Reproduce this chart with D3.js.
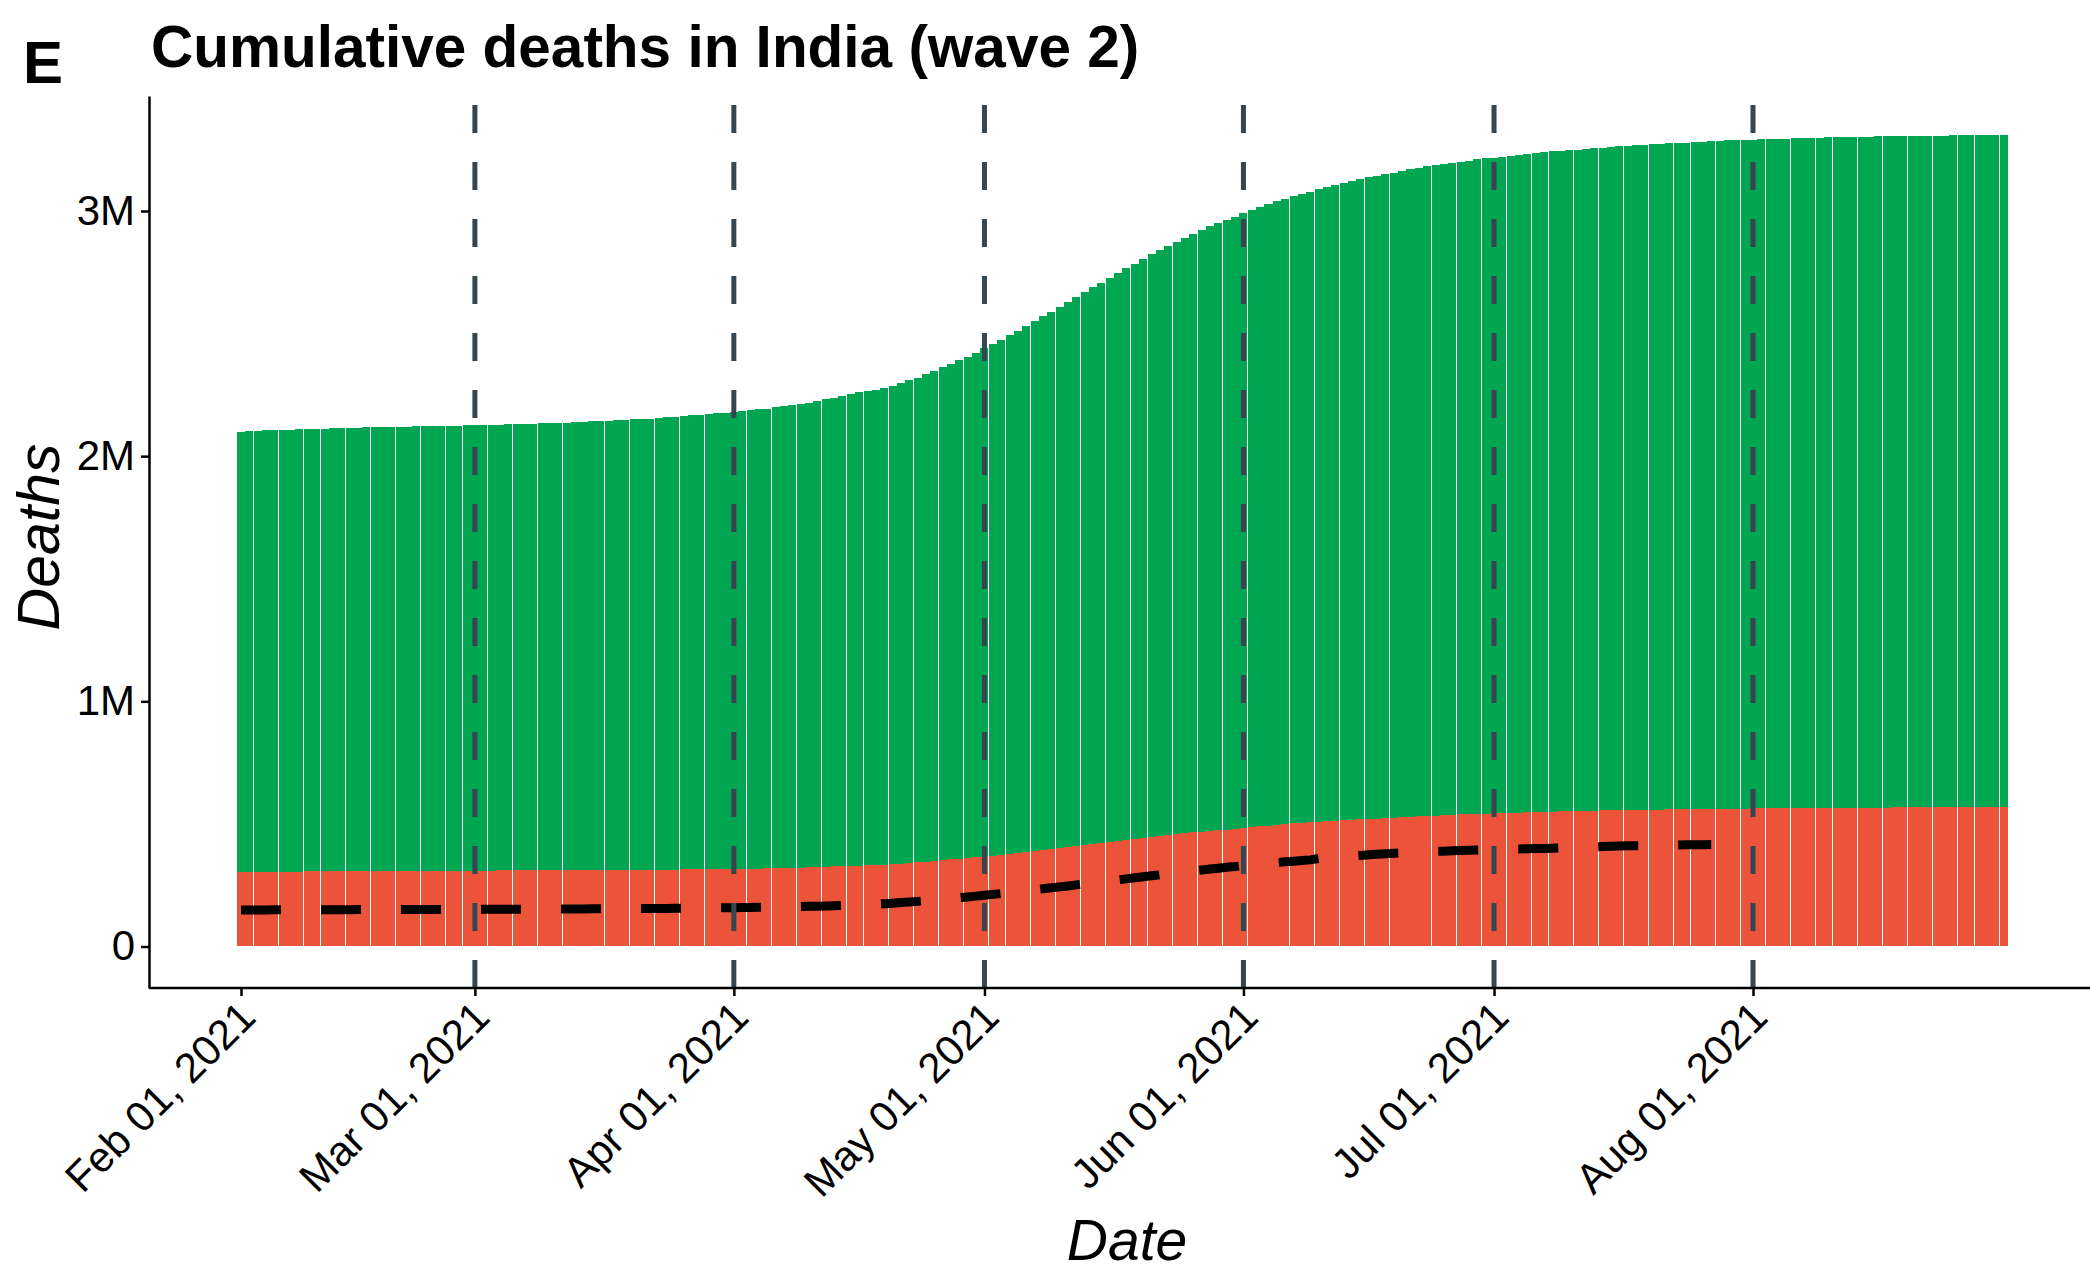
<!DOCTYPE html>
<html>
<head>
<meta charset="utf-8">
<script src="https://cdn.jsdelivr.net/npm/d3@7"></script>
<style>
  body { margin: 0; background: white; }
  svg { display: block; font-family: "Liberation Sans", Arial, sans-serif; }
</style>
</head>
<body>
<svg id="chart"></svg>
<script>
// data (deaths in thousands), one value per day starting Feb 01, 2021
const startDate = new Date(Date.UTC(2021, 1, 1))

const lowerDeaths = [
  305,305,305,305,305,305,305,305,306,306,306,306,306,306,306,306,307,
  307,308,308,308,308,308,309,309,309,309,309,309,309,309,310,310,310,310,310,310,310,311,311,311,
  312,312,312,313,313,313,313,313,314,314,314,314,315,
  315,316,316,316,316,317,317,317,
  318,319,320,320,321,
  322,323,324,325,
  327,328,329,330,331,332,334,336,338,
  340,343,346,349,352,355,358,361,364,
  367,371,375,379,383,387,391,395,399,403,407,
  411,415,419,423,427,431,435,439,443,447,
  451,455,459,463,466,469,472,474,477,480,
  483,487,490,493,496,499,502,505,507,509,
  511,513,515,517,519,521,522,524,526,527,
  529,531,532,534,535,537,539,540,541,542,
  543,544,545,546,547,548,549,550,551,552,
  553,553,554,555,555,556,556,557,557,558,
  558,559,559,560,560,561,561,561,562,562,
  562,563,563,563,564,564,564,564,565,565,
  565,565,565,566,566,566,566,566,567,567,
  567,567,568,568,568,568,569,569,569,569,
  569,570
]

const totalDeaths = [
  2100,2103,2104,2105,2107,2107,2108,2109,2110,2111,
  2112,2113,2114,2115,2116,2117,2117,2118,2119,2120,
  2120,2121,2122,2123,2123,2124,2125,2126,2127,2127,
  2128,2129,2130,2131,2132,2133,2134,2135,2136,2137,
  2139,2140,2142,2143,2145,2146,2148,2150,2151,2153,
  2155,2158,2161,2164,2166,2168,2172,2175,2178,2181,
  2185,2188,2191,2194,2200,2206,2209,2213,2217,2224,
  2232,2238,2245,2253,2260,2265,2270,2279,2288,2298,
  2310,2320,2334,2349,2362,2376,2392,2404,2420,2440,
  2458,2474,2494,2511,2531,2552,2572,2588,2609,2629,
  2650,2670,2691,2707,2727,2748,2768,2784,2805,2825,
  2842,2858,2874,2891,2907,2923,2939,2952,2964,2976,
  2993,3005,3017,3029,3042,3050,3062,3069,3077,3089,
  3097,3105,3113,3122,3130,3138,3142,3150,3154,3162,
  3170,3174,3183,3187,3191,3195,3199,3203,3211,3215,
  3215,3219,3225,3227,3231,3235,3240,3244,3244,3248,
  3248,3252,3256,3258,3261,3264,3266,3268,3270,3273,
  3275,3277,3278,3279,3281,3282,3284,3286,3288,3289,
  3290,3291,3292,3293,3294,3295,3296,3297,3298,3299,
  3300,3300,3301,3302,3302,3303,3304,3304,3305,3305,
  3306,3306,3307,3307,3307,3308,3308,3308,3309,3310,
  3310,3311
]

const reportedDeaths = [
  // Feb
  149.0,149.1,149.2,149.3,149.4,149.5,149.6,149.7,149.8,149.9,150.0,150.1,150.2,150.3,
  150.4,150.5,150.6,150.6,150.7,150.8,150.9,151.0,151.1,151.2,151.3,151.4,151.5,151.7,
  // Mar
  151.8,151.9,152.0,152.1,152.2,152.3,152.4,152.5,152.6,152.8,152.9,153.0,153.2,153.3,153.5,
  153.6,153.8,154.0,154.2,154.4,154.6,154.8,155.0,155.3,155.6,155.9,156.2,156.6,157.0,157.4,157.8,
  // Apr
  158.3,158.8,159.3,159.8,160.3,160.9,161.5,162.2,162.9,163.7,164.5,165.4,166.4,167.5,168.7,
  170.0,171.4,173.0,174.8,176.8,179.0,181.4,184.0,186.8,189.7,192.7,195.8,199.0,202.2,205.4,
  // May
  208.9,212.5,216.0,219.4,223.2,227.2,231.1,235.3,239.4,243.1,247.0,251.2,255.3,259.3,263.2,
  267.3,271.4,275.7,280.2,284.1,288.3,292.5,296.3,300.7,304.2,308.4,312.2,315.9,319.4,323.0,326.1,
  // Jun
  330.0,333.3,336.5,339.6,342.5,345.3,348.0,350.6,353.2,358.8,361.9,364.6,367.0,369.3,371.6,
  374.2,376.4,378.5,380.4,382.0,383.5,384.9,386.3,387.6,388.9,390.1,391.3,392.5,393.5,394.4,
  // Jul
  395.3,396.2,397.0,397.7,398.4,399.2,400.1,401.1,402.2,403.4,404.6,405.7,406.8,407.9,
  408.9,409.8,410.5,411.1,411.6,412.0,413.3,413.8,414.2,414.6,415.0,415.4,415.8
]

const monthTicks = ["2021-02-01","2021-03-01","2021-04-01","2021-05-01","2021-06-01","2021-07-01","2021-08-01"]
const markerDates = ["2021-03-01","2021-04-01","2021-05-01","2021-06-01","2021-07-01","2021-08-01"]
const yTicks = [0, 1000, 2000, 3000]
const yTickLabels = ["0", "1M", "2M", "3M"]

const days = totalDeaths.map((d, i) => ({
    date: d3.utcDay.offset(startDate, i),
    lower: lowerDeaths[i],
    total: totalDeaths[i]
}))
const reported = reportedDeaths.map((v, i) => ({date: d3.utcDay.offset(startDate, i), value: v}))

// setting up container
    const width = 2090
    const height = 1276
    const svg = d3.select('#chart')
        .attr('width', width)
        .attr('height', height)

// set up scale
    const xScale = d3.scaleUtc()
        .domain([new Date(Date.UTC(2021, 1, 1)), new Date(Date.UTC(2021, 7, 1))])
        .range([241, 1753])
    const dayWidth = xScale(d3.utcDay.offset(startDate, 1)) - xScale(startDate)
    const barWidth = dayWidth * 0.96
    const yScale = d3.scaleLinear()
        .domain([-169.3, 3469])
        .range([988, 96])

// bars: lower part in red, rest in green
    const bars = svg.append('g').attr('shape-rendering', 'crispEdges')
    bars.selectAll('.upper')
        .data(days)
        .enter()
        .append('rect')
            .attr('class', 'upper')
            .attr('x', d => xScale(d.date) - barWidth / 2)
            .attr('y', d => yScale(d.total))
            .attr('width', barWidth)
            .attr('height', d => yScale(d.lower) - yScale(d.total))
            .attr('fill', '#00a651')
    bars.selectAll('.lower')
        .data(days)
        .enter()
        .append('rect')
            .attr('class', 'lower')
            .attr('x', d => xScale(d.date) - barWidth / 2)
            .attr('y', d => yScale(d.lower))
            .attr('width', barWidth)
            .attr('height', d => yScale(0) - yScale(d.lower))
            .attr('fill', '#eb5439')

// reported deaths line
    const line = d3.line()
        .x(d => xScale(d.date))
        .y(d => yScale(d.value))
    svg.append('path')
        .datum(reported)
        .attr('d', line)
        .attr('fill', 'none')
        .attr('stroke', 'black')
        .attr('stroke-width', 9)
        .attr('stroke-dasharray', '40,40')

// month marker lines (drawn bottom to top so the dash pattern starts at the axis)
    svg.append('g').selectAll('line')
        .data(markerDates)
        .enter()
        .append('line')
            .attr('x1', d => xScale(new Date(d)))
            .attr('x2', d => xScale(new Date(d)))
            .attr('y1', 988)
            .attr('y2', 96)
            .attr('stroke', '#36454f')
            .attr('stroke-width', 5)
            .attr('stroke-dasharray', '28,29')

// set up axes
    const xAxis = d3.axisBottom(xScale)
        .tickValues(monthTicks.map(d => new Date(d)))
        .tickFormat(d3.utcFormat('%b %d, %Y'))
        .tickSizeInner(8)
        .tickSizeOuter(0)
    const gx = svg.append('g')
        .attr('transform', 'translate(0, 988)')
        .call(xAxis)
    gx.select('.domain').attr('d', 'M149,0H2090')
    gx.selectAll('.tick text')
        .attr('font-size', 42)
        .attr('fill', 'black')
        .style('text-anchor', 'end')
        .attr('transform', 'translate(-5,10)rotate(-45)')
        .attr('dy', '0.72em')
        .attr('y', 0)

    const yAxis = d3.axisLeft(yScale)
        .tickValues(yTicks)
        .tickFormat((d, i) => yTickLabels[i])
        .tickSizeInner(8)
        .tickSizeOuter(0)
    const gy = svg.append('g')
        .attr('transform', 'translate(149, 0)')
        .call(yAxis)
    gy.selectAll('.tick text')
        .attr('font-size', 42)
        .attr('fill', 'black')
        .attr('x', -14)

    svg.selectAll('.domain, .tick line')
        .attr('stroke', 'black')
        .attr('stroke-width', 2.5)

// titles
    svg.append('text')
        .attr('x', 23).attr('y', 83)
        .attr('font-size', 60).attr('font-weight', 'bold')
        .text('E')
    svg.append('text')
        .attr('x', 151).attr('y', 67)
        .attr('font-size', 58.5).attr('font-weight', 'bold')
        .text('Cumulative deaths in India (wave 2)')
    svg.append('text')
        .attr('transform', 'translate(59, 537)rotate(-90)')
        .attr('text-anchor', 'middle')
        .attr('font-size', 59).attr('font-style', 'italic')
        .text('Deaths')
    svg.append('text')
        .attr('x', 1127).attr('y', 1260)
        .attr('text-anchor', 'middle')
        .attr('font-size', 57).attr('font-style', 'italic')
        .text('Date')
</script>
</body>
</html>
